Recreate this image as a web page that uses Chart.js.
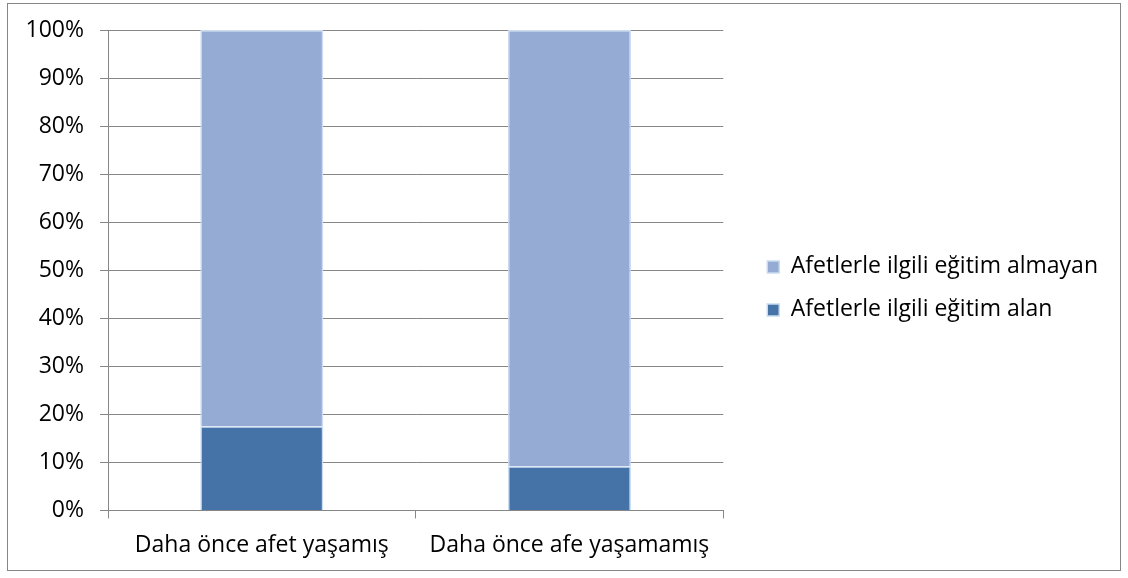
<!DOCTYPE html>
<html>
<head>
<meta charset="utf-8">
<script src="https://cdn.jsdelivr.net/npm/chart.js@4"></script>
<style>
html,body{margin:0;padding:0;background:#fff;}
#frame{position:absolute;left:7px;top:3px;width:1112px;height:566px;border:1px solid #868686;}
#wrap{position:absolute;left:0;top:0;width:1128px;height:578px;}
</style>
</head>
<body>
<div id="frame"></div>
<div id="wrap"><canvas id="egitimChart" width="1128" height="578"></canvas></div>
<script>
const groups=["Daha önce afet yaşamış","Daha önce afe yaşamamış"];
const alan=[17.5,9.2];
const almayan=[82.5,90.8];
const seriesNames=["Afetlerle ilgili eğitim alan","Afetlerle ilgili eğitim almayan"];

const axisGray="#868686";
const labelFont={family:"Open Sans",size:23};

function drawChart(){

const chart=document.getElementById("egitimChart");

if(!chart) return;

new Chart(chart,{

type:"bar",

data:{

labels:groups,

datasets:[{

label:seriesNames[0],

data:alan,

backgroundColor:"#4572A7",

borderColor:"#C9DCF0",

borderWidth:1.5,

categoryPercentage:1,

barPercentage:0.4

},{

label:seriesNames[1],

data:almayan,

backgroundColor:"#95ABD4",

borderColor:"#C9DCF0",

borderWidth:1.5,

categoryPercentage:1,

barPercentage:0.4

}]

},

options:{

responsive:false,

animation:false,

layout:{

padding:{top:30,left:0,right:20,bottom:6}

},

scales:{

x:{

stacked:true,

grid:{

offset:true,

drawOnChartArea:false,

drawTicks:true,

tickLength:8,

color:axisGray

},

border:{color:axisGray},

ticks:{

color:"#000",

padding:13,

font:labelFont

}

},

y:{

stacked:true,

min:0,

max:100,

afterFit(scale){scale.width=108;},

grid:{

color:axisGray,

tickLength:8

},

border:{color:axisGray},

ticks:{

stepSize:10,

color:"#000",

padding:16,

font:labelFont,

callback:v=>v+"%"

}

},

// empty strip between the plot and the legend

gap:{

position:"right",

grid:{drawOnChartArea:false,drawTicks:false},

border:{display:false},

ticks:{display:false},

afterFit(scale){scale.width=24;}

}

},

plugins:{

tooltip:{enabled:false},

legend:{

position:"right",

align:"start",

reverse:true,

maxWidth:500,

// blank title used only as a spacer above the items

title:{display:true,text:"",padding:{top:0,bottom:191}},

labels:{

boxWidth:12,

boxHeight:12,

padding:20,

color:"#000",

font:labelFont

}

}

}

}

});

}

document.fonts.load('23px "Open Sans"').then(drawChart,drawChart);
</script>
</body>
</html>
